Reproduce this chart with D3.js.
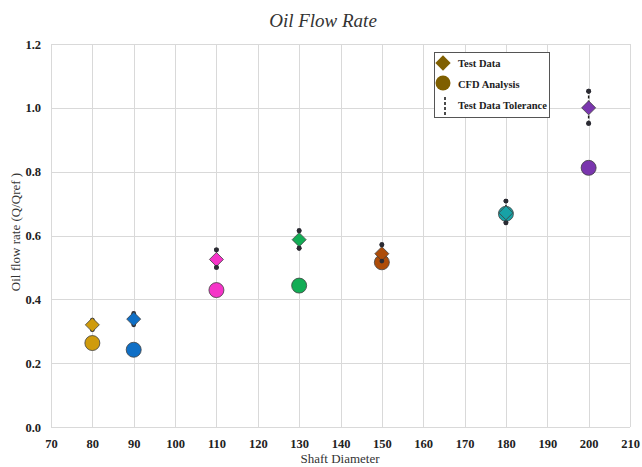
<!DOCTYPE html>
<html>
<head>
<meta charset="utf-8">
<script src="https://cdn.jsdelivr.net/npm/d3@7"></script>
<style>
  html, body { margin: 0; padding: 0; background: #fff; }
  svg { display: block; }
</style>
</head>
<body>
<svg id="chart" width="642" height="467"></svg>
<script>
// Shaft diameters tested
const diameters = [80, 90, 110, 130, 150, 180, 200];
// Measured oil flow rate (Q/Qref)
const testData = [0.32, 0.338, 0.525, 0.587, 0.543, 0.671, 1.0];
// Simulated oil flow rate (Q/Qref)
const cfdData = [0.263, 0.242, 0.429, 0.443, 0.516, 0.668, 0.812];
// Tolerance band on the measurements
const tolLow = [0.305, 0.32, 0.50, 0.56, 0.52, 0.64, 0.951];
const tolHigh = [0.335, 0.356, 0.555, 0.615, 0.571, 0.708, 1.052];
// One colour per diameter
const pointColors = ["#cf9b0c", "#0f6fc6", "#f534c8", "#12ad55", "#ad4c08", "#17a2a6", "#7a36ae"];

const xTicks = d3.range(70, 211, 10);
const yTicks = [0, 0.2, 0.4, 0.6, 0.8, 1.0, 1.2];

const svg = d3.select("#chart");
const serif = "'Liberation Serif', 'Times New Roman', serif";

const x = d3.scaleLinear().domain([70, 210]).range([51, 630]);
const y = d3.scaleLinear().domain([0, 1.2]).range([427, 44]);

// Gridlines
const grid = svg.append("g").attr("stroke", "#d9d9d9").attr("stroke-width", 1);
grid.selectAll(".vg").data(xTicks).join("line")
  .attr("x1", d => Math.round(x(d)) + 0.5).attr("x2", d => Math.round(x(d)) + 0.5)
  .attr("y1", y(1.2)).attr("y2", y(0));
grid.selectAll(".hg").data(yTicks).join("line")
  .attr("x1", x(70)).attr("x2", x(210))
  .attr("y1", d => Math.round(y(d)) + 0.5).attr("y2", d => Math.round(y(d)) + 0.5);

// Axes (labels only, grid draws the lines)
const xAxis = svg.append("g").attr("transform", `translate(0,${y(0)})`)
  .call(d3.axisBottom(x).tickValues(xTicks).tickSize(0).tickPadding(12).tickFormat(d3.format("d")));
const yAxis = svg.append("g").attr("transform", `translate(${x(70)},0)`)
  .call(d3.axisLeft(y).tickValues(yTicks).tickSize(0).tickPadding(10).tickFormat(d3.format(".1f")));
[xAxis, yAxis].forEach(a => {
  a.select(".domain").remove();
  a.selectAll("text").attr("font-family", serif).attr("font-size", 12.5)
    .attr("font-weight", "bold").attr("fill", "#222");
});

// Tolerance bars
const tol = svg.append("g");
diameters.forEach((d, i) => {
  tol.append("line")
    .attr("x1", x(d)).attr("x2", x(d))
    .attr("y1", y(tolLow[i])).attr("y2", y(tolHigh[i]))
    .attr("stroke", "#1a1a1a").attr("stroke-width", 1.5).attr("stroke-dasharray", "3,2");
  [tolLow[i], tolHigh[i]].forEach(v => {
    tol.append("circle").attr("cx", x(d)).attr("cy", y(v)).attr("r", 2.4)
      .attr("fill", "#2b2b33");
  });
});

// CFD circles
svg.append("g").selectAll("circle").data(diameters).join("circle")
  .attr("cx", d => x(d)).attr("cy", (d, i) => y(cfdData[i])).attr("r", 7.5)
  .attr("fill", (d, i) => pointColors[i]).attr("stroke", "#404040").attr("stroke-width", 0.8);

// Test data diamonds
const diamond = d3.symbol().type(d3.symbolDiamond2).size(125);
svg.append("g").selectAll("path").data(diameters).join("path")
  .attr("d", diamond)
  .attr("transform", (d, i) => `translate(${x(d)},${y(testData[i])})`)
  .attr("fill", (d, i) => pointColors[i]).attr("stroke", "#404040").attr("stroke-width", 0.8);

// Redraw the tolerance end dots over the diamonds
diameters.forEach((d, i) => {
  [tolLow[i], tolHigh[i]].forEach(v => {
    if (Math.abs(y(v) - y(testData[i])) > 7) {
      svg.append("circle").attr("cx", x(d)).attr("cy", y(v)).attr("r", 2.4).attr("fill", "#2b2b33");
    }
  });
});

// Legend
const lg = svg.append("g").attr("transform", "translate(434,52)");
lg.append("rect").attr("x", 0.5).attr("y", 0.5).attr("width", 115).attr("height", 65)
  .attr("fill", "#fff").attr("stroke", "#555").attr("stroke-width", 1);
lg.append("path").attr("d", d3.symbol().type(d3.symbolDiamond2).size(150))
  .attr("transform", "translate(9,11)").attr("fill", "#7f5f00");
lg.append("circle").attr("cx", 9).attr("cy", 31).attr("r", 7.5).attr("fill", "#7f5f00");
lg.append("line").attr("x1", 11).attr("x2", 11).attr("y1", 45).attr("y2", 64)
  .attr("stroke", "#111").attr("stroke-width", 1.5).attr("stroke-dasharray", "3,2");
const legendLabels = ["Test Data", "CFD Analysis", "Test Data Tolerance"];
lg.selectAll("text.lab").data(legendLabels).join("text")
  .attr("x", 24).attr("y", (d, i) => 15 + i * 21)
  .attr("font-family", serif).attr("font-size", 10.5).attr("font-weight", "bold")
  .attr("fill", "#222").text(d => d);

// Titles
svg.append("text").attr("x", 323).attr("y", 27).attr("text-anchor", "middle")
  .attr("font-family", serif).attr("font-style", "italic").attr("font-size", 19)
  .attr("fill", "#333").text("Oil Flow Rate");
svg.append("text").attr("x", 340).attr("y", 463).attr("text-anchor", "middle")
  .attr("font-family", serif).attr("font-size", 13).attr("fill", "#333").text("Shaft Diameter");
svg.append("text").attr("transform", "translate(20,232) rotate(-90)").attr("text-anchor", "middle")
  .attr("font-family", serif).attr("font-size", 13).attr("fill", "#333").text("Oil flow rate (Q/Qref )");
</script>
</body>
</html>
